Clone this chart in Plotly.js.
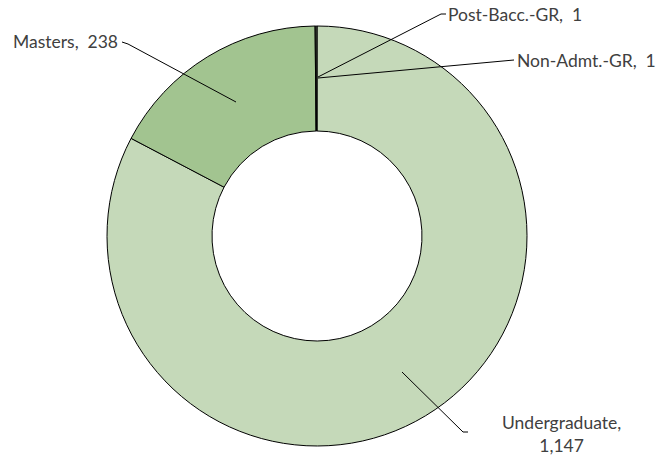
<!DOCTYPE html>
<html>
<head>
<meta charset="utf-8">
<script src="https://cdn.plot.ly/plotly-3.0.1.min.js"></script>
<style>html,body{margin:0;padding:0;background:#fff;}#chart{width:658px;height:457px;}</style>
</head>
<body>
<div id="chart"></div>
<script>
const categories = ["Undergraduate", "Masters", "Post-Bacc.-GR", "Non-Admt.-GR"];
const values = [1147, 238, 1, 1];
const colors = ["#c5d9b9", "#a2c490", "#c5d9b9", "#c5d9b9"];

const W = 658, H = 457;
const cx = 317, cy = 236, R = 210;
const px = x => x / W;
const py = y => 1 - y / H;

function fmt(v) { return v.toLocaleString("en-US"); }

const labelText = [
  categories[0] + ",<br>" + fmt(values[0]),
  categories[1] + ",  " + fmt(values[1]),
  categories[2] + ",  " + fmt(values[2]),
  categories[3] + ",  " + fmt(values[3])
];
const labelPos = [
  {x: 561, y: 434, xa: "center"},
  {x: 11, y: 42, xa: "left"},
  {x: 446, y: 15, xa: "left"},
  {x: 515, y: 60, xa: "left"}
];
const leaders = [
  [[402, 372], [463, 432], [468, 432]],
  [[236, 102], [128, 44], [122, 42]],
  [[318, 77], [441, 14], [446, 14]],
  [[318, 78], [514, 60]]
];

const shapes = [];
leaders.forEach(pts => {
  for (let i = 0; i < pts.length - 1; i++) {
    shapes.push({type: "line", xref: "paper", yref: "paper",
      x0: px(pts[i][0]), y0: py(pts[i][1]), x1: px(pts[i+1][0]), y1: py(pts[i+1][1]),
      line: {color: "#000000", width: 1}});
  }
});

const annotations = labelText.map((t, i) => ({
  xref: "paper", yref: "paper", x: px(labelPos[i].x), y: py(labelPos[i].y),
  xanchor: labelPos[i].xa, yanchor: "middle", align: "center",
  text: t, showarrow: false,
  font: {family: "Lato, 'Open Sans', sans-serif", size: 17.5, color: "#404040"}
}));

const trace = {
  type: "pie",
  labels: categories,
  values: values,
  sort: false,
  direction: "clockwise",
  rotation: 0,
  hole: 0.5,
  textinfo: "none",
  hoverinfo: "label+value",
  marker: {colors: colors, line: {color: "#000000", width: 1}},
  domain: {x: [(cx - R) / W, (cx + R) / W], y: [(H - cy - R) / H, (H - cy + R) / H]},
  automargin: false
};

Plotly.newPlot("chart", [trace], {
  width: W, height: H,
  margin: {l: 0, r: 0, t: 0, b: 0},
  showlegend: false,
  paper_bgcolor: "#ffffff",
  shapes: shapes,
  annotations: annotations,
  font: {family: "Lato, sans-serif", color: "#404040"}
}, {displayModeBar: false, staticPlot: true});
</script>
</body>
</html>
